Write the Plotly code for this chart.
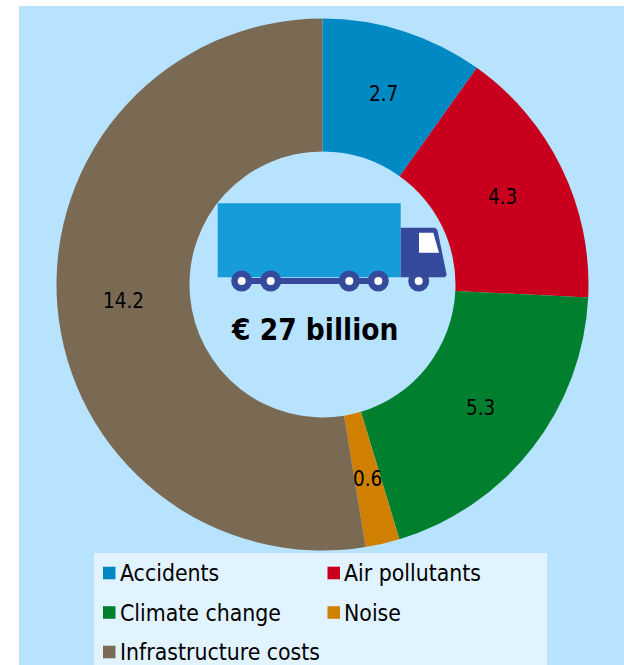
import math
import plotly.graph_objects as go

W, H = 624, 665
categories = ["Accidents", "Air pollutants", "Climate change", "Noise", "Infrastructure costs"]
values = [2.66, 4.30, 5.28, 0.56, 14.2]
colors = ["#0089c2", "#c8001e", "#00802f", "#d08000", "#7a6a54"]
center_text = "€ 27 billion"
FONT = "DejaVu Sans Condensed, DejaVu Sans, sans-serif"
PANEL = "#b7e3ff"
LEGEND_BG = "#e0f3ff"
TRUCK_LIGHT = "#169cd8"
TRUCK_DARK = "#354a9b"

cx, cy, R = 322.5, 284.5, 266


def X(p):
    return p / W


def Y(p):
    return 1 - p / H


def rect(x0, y0, x1, y1, color, layer="above"):
    return dict(type="rect", xref="paper", yref="paper", x0=X(x0), x1=X(x1), y0=Y(y0), y1=Y(y1),
                fillcolor=color, line_width=0, layer=layer)


def circle(x, y, r, color):
    return dict(type="circle", xref="paper", yref="paper", x0=X(x - r), x1=X(x + r), y0=Y(y - r), y1=Y(y + r),
                fillcolor=color, line_width=0, layer="above")


def poly(points, color):
    d = "M " + " L ".join(f"{X(a):.5f},{Y(b):.5f}" for a, b in points) + " Z"
    return dict(type="path", xref="paper", yref="paper", path=d, fillcolor=color, line_width=0, layer="above")


fig = go.Figure(go.Pie(
    labels=categories, values=values, sort=False, direction="clockwise", rotation=0, hole=0.5,
    marker=dict(colors=colors, line=dict(width=0)),
    textinfo="none",
    domain=dict(x=[X(cx - R), X(cx + R)], y=[Y(cy + R), Y(cy - R)]),
    showlegend=False,
))

shapes = [rect(19, 6, 624, 665, PANEL, "below"), rect(94, 553, 547, 665, LEGEND_BG, "above")]
# truck
shapes.append(rect(217.7, 203.3, 400.7, 277.3, TRUCK_LIGHT))
shapes.append(poly([(400.7, 227.7), (435, 227.7), (437.5, 230), (446.7, 275), (445, 277.3), (400.7, 277.3)], TRUCK_DARK))
shapes.append(rect(236, 278, 378, 284, TRUCK_DARK))
for wx in [241.7, 270.7, 349.3, 378.3, 418.7]:
    shapes.append(circle(wx, 281, 10.5, TRUCK_DARK))
    shapes.append(circle(wx, 281, 4, "white"))
shapes.append(poly([(419, 232.7), (433.3, 232.7), (439, 252.7), (419, 252.7)], "white"))

annotations = [dict(text=center_text, x=X(314.5), y=Y(330), xref="paper", yref="paper", showarrow=False,
                    xanchor="center", yanchor="middle",
                    font=dict(family=FONT, size=29.5, color="black", weight="bold"))]

# value labels, at the middle of each ring segment
total = sum(values)
cum = 0
for v in values:
    mid = (cum + v / 2) / total * 2 * math.pi
    cum += v
    annotations.append(dict(text=f"{v:.1f}", x=X(cx + 0.752 * R * math.sin(mid)), y=Y(cy - 0.752 * R * math.cos(mid)),
                            xref="paper", yref="paper", showarrow=False, xanchor="center", yanchor="middle",
                            font=dict(family=FONT, size=20.5, color="black")))

# manual two-column legend
cols = [103, 327.5]
rows = [573, 612.5, 652]
for i, (name, c) in enumerate(zip(categories, colors)):
    x = cols[i % 2]
    y = rows[i // 2]
    shapes.append(rect(x, y - 6.3, x + 12.5, y + 6.3, c))
    annotations.append(dict(text=name, x=X(x + 14.8), y=Y(y), xref="paper", yref="paper", showarrow=False,
                            xanchor="left", yanchor="middle", font=dict(family=FONT, size=22.8, color="black")))

fig.update_layout(width=W, height=H, margin=dict(l=0, r=0, t=0, b=0), paper_bgcolor="white",
                  shapes=shapes, annotations=annotations, showlegend=False)
fig.write_html("out.html", config=dict(displayModeBar=False),
               post_script="document.body.style.margin='0';document.documentElement.style.overflow='hidden';")
